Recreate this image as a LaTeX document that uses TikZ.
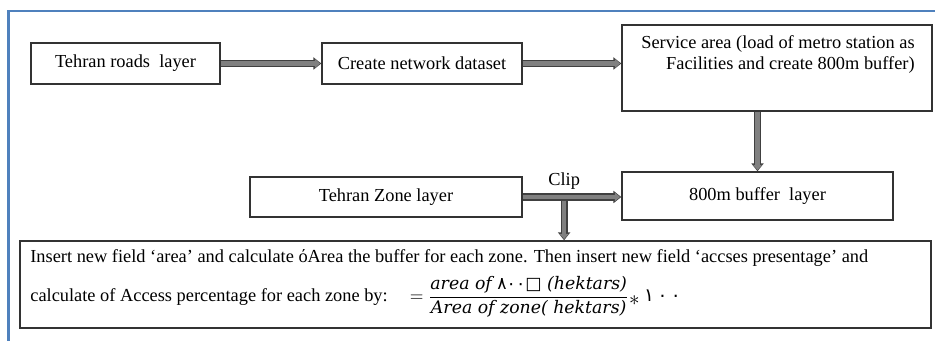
\documentclass[tikz,border=0pt]{standalone}
\usepackage{amsmath}
\usepackage{fontspec}
\setmainfont{Liberation Serif}
\newfontfamily\digfont{DejaVu Sans}
\newfontfamily\fmlafont{DejaVu Serif}
\usetikzlibrary{arrows.meta}
\definecolor{frameblue}{RGB}{79,129,189}

\begin{document}
\begin{tikzpicture}[every node/.style={font=\fontsize{10.45}{11.9}\selectfont},
  box/.style={draw=black!80,line width=0.8pt,inner sep=0pt},
  flow/.style={draw=black!50,line width=2.4pt,-{Triangle[length=3pt,width=5pt]},shorten >=0.7pt,
    preaction={draw=black!75,line width=4pt,shorten >=0pt,-{Triangle[length=4.5pt,width=6.8pt]}}}]
\useasboundingbox (0,0) rectangle (18.7,6.82);
\draw[frameblue,line width=1.2pt] (0.17,0) -- (0.17,6.6) -- (18.7,6.6);
\node[box,minimum width=3.78cm,minimum height=.82cm] (rd) at (2.51,5.55) {Tehran roads\ \ layer};
\node[box,minimum width=4cm,minimum height=.82cm] (nd) at (8.44,5.55) {Create network dataset};
\node[box,minimum width=6.2cm,minimum height=1.72cm] (sa) at (15.54,5.46) {};
\node[align=right,inner sep=0pt,anchor=east] (satxt) at (18.3,5.73) {Service area (load of metro station as\\Facilities and create 800m buffer)};
\node[box,minimum width=5.44cm,minimum height=.8cm] (zn) at (7.72,2.88) {Tehran Zone layer};
\node[box,minimum width=5.42cm,minimum height=.96cm] (bf) at (15.15,2.9) {800m buffer\ \ layer};
\node[box,minimum width=18.22cm,minimum height=1.74cm] (ins) at (9.51,1.13) {};
\node[anchor=west,inner sep=0pt] (ln1) at (0.6,1.66) {Insert new field ‘area’ and calculate όArea the buffer for each zone. Then insert new field ‘accses presentage’ and};
\node[anchor=west,inner sep=0pt] (ln2) at (0.6,0.88) {calculate of Access percentage for each zone by:\hspace{1.2em}$=\dfrac{\mbox{\fontsize{9.85}{11}\fmlafont\itshape area of {\digfont\upshape ٨٠٠□} (hektars)}}{\mbox{\fontsize{9.85}{11}\fmlafont\itshape Area of zone( hektars)}}\mathbin{\raisebox{-2pt}{\fontsize{13}{13}\selectfont$\ast$}}$ {\digfont ١\kern2pt٠\kern2pt٠}};
% arrows
\draw[flow] (rd) -- (nd);
\draw[flow] (nd.east) -- (nd.east -| sa.west);
\draw[flow] (sa.south -| bf.north) -- (bf.north);
\draw[flow] (zn.east) -- coordinate[pos=.42] (cl) node[pos=.42,above] {Clip} (zn.east -| bf.west);
\draw[flow,shorten <=2pt] (cl) -- (cl |- ins.north);
\end{tikzpicture}
\end{document}
